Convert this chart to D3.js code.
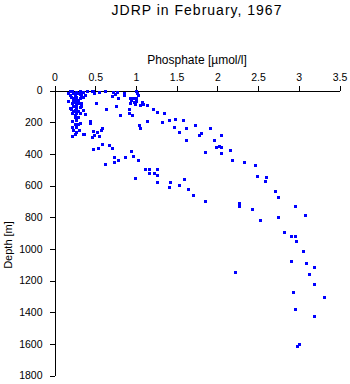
<!DOCTYPE html>
<html><head><meta charset="utf-8">
<script src="https://cdn.jsdelivr.net/npm/d3@7"></script>
<style>
body{margin:0;background:#fff;}
svg{display:block;}
</style></head>
<body>
<script>
const title = "JDRP in February, 1967";
const xLabel = "Phosphate [\u00B5mol/l]";
const yLabel = "Depth [m]";
const xTicks = [0, 0.5, 1, 1.5, 2, 2.5, 3, 3.5];
const yTicks = [0, 200, 400, 600, 800, 1000, 1200, 1400, 1600, 1800];

const phosphate = [
0.17,0.21,0.23,0.25,0.27,0.29,0.31,0.33,0.35,0.37,0.20,0.23,0.27,0.31,0.35,0.17,0.21,0.25,0.29,0.33,
0.23,0.27,0.31,0.20,0.25,0.29,0.21,0.27,0.31,0.37,0.25,0.29,0.21,0.27,0.31,0.43,0.43,0.21,0.27,0.30,
0.35,0.25,0.21,0.40,0.46,0.48,0.55,0.62,0.72,0.74,0.71,0.78,0.85,0.85,1.00,1.01,1.02,0.93,0.96,0.98,
1.05,1.07,1.13,0.93,0.99,0.51,0.63,0.76,0.80,0.92,0.92,0.95,1.21,1.26,1.34,1.13,1.04,1.05,1.32,1.41,
1.48,1.58,1.47,1.53,1.62,1.73,1.78,1.62,0.58,0.47,0.52,0.48,0.46,0.55,0.57,0.36,0.58,0.54,0.67,0.71,
0.47,0.73,0.78,0.73,0.87,0.94,0.96,1.02,0.62,1.11,1.16,1.16,1.22,1.26,1.26,0.99,1.26,1.42,1.59,1.53,
1.41,1.64,1.70,1.91,1.80,1.96,2.05,1.98,2.02,2.05,2.05,2.16,1.85,2.18,1.85,2.58,2.71,2.75,2.27,2.26,
2.43,2.52,2.95,3.08,2.75,2.82,2.90,2.95,2.97,3.05,2.90,3.09,3.19,3.12,3.19,2.22,2.93,3.31,2.95,3.19,
3.00,2.98,2.33,2.46,2.49,2.60,0.47,0.77,1.00,0.94,1.00,1.09,0.44,0.19,0.23,
0.19,0.25,0.29,0.33,0.27,0.23,0.25,0.29,0.23,0.27,0.33,0.35,0.19,0.31,0.25
];
const depth = [
18,0,14,28,8,18,0,18,8,28,39,49,39,49,43,64,77,71,81,77,
98,92,102,119,123,127,144,144,140,148,169,169,191,186,203,191,203,229,229,249,
275,275,287,0,0,14,11,0,8,22,35,49,14,28,0,14,28,49,49,71,
92,71,92,77,85,81,119,98,155,119,144,157,119,138,144,195,218,239,201,188,
180,188,232,264,239,220,283,313,239,254,260,281,296,287,249,275,340,365,346,361,
372,422,439,450,422,380,416,441,466,498,498,523,519,494,536,555,580,576,561,595,
611,624,660,237,266,313,283,359,352,359,397,376,388,441,700,570,637,675,711,731,
750,820,731,784,797,892,921,919,951,1014,1079,1091,1117,1161,1224,1148,1275,1306,1378,1424,
1603,1616,454,471,540,546,5,12,45,60,66,88,200,110,60,
30,55,60,35,110,130,155,210,250,260,100,120,5,25,210
];

const W = 350, H = 384;
const svg = d3.select("body").append("svg").attr("width", W).attr("height", H);

const x = d3.scaleLinear().domain([0, 3.5]).range([54.5, 339.5]);
const y = d3.scaleLinear().domain([0, 1800]).range([90.5, 375.5]);

const font = "Liberation Sans, Arial, Helvetica, sans-serif";

svg.append("text").attr("x", 197).attr("y", 15).attr("text-anchor", "middle")
  .attr("font-family", font).attr("font-size", 14).attr("letter-spacing", 1)
  .text(title);

svg.append("text").attr("x", 197).attr("y", 64).attr("text-anchor", "middle")
  .attr("font-family", font).attr("font-size", 12)
  .text(xLabel);

svg.append("text").attr("transform", "translate(12,245) rotate(-90)").attr("text-anchor", "middle")
  .attr("font-family", font).attr("font-size", 11)
  .text(yLabel);

const xAxis = svg.append("g").attr("transform", "translate(0,90.5)")
  .call(d3.axisTop(x).tickValues(xTicks).tickFormat(d3.format("")).tickSize(5).tickSizeOuter(0).tickPadding(5));
const yAxis = svg.append("g").attr("transform", "translate(54.5,0)")
  .call(d3.axisLeft(y).tickValues(yTicks).tickFormat(d3.format("d")).tickSize(5).tickSizeOuter(0).tickPadding(7));

[xAxis, yAxis].forEach(g => {
  g.attr("font-family", font).attr("font-size", 10.5);
  g.selectAll("path,line").attr("stroke", "#000").attr("shape-rendering", "crispEdges");
  g.selectAll("text").attr("fill", "#000");
});

const pts = phosphate.map((p, i) => ({p, d: depth[i]}));
svg.append("g").selectAll("rect").data(pts).join("rect")
  .attr("x", d => Math.round(x(d.p)) - 1.5)
  .attr("y", d => Math.round(y(d.d)) - 1.5)
  .attr("width", 3).attr("height", 3)
  .attr("fill", "#0000ff")
  .attr("shape-rendering", "crispEdges");
</script>
</body></html>
